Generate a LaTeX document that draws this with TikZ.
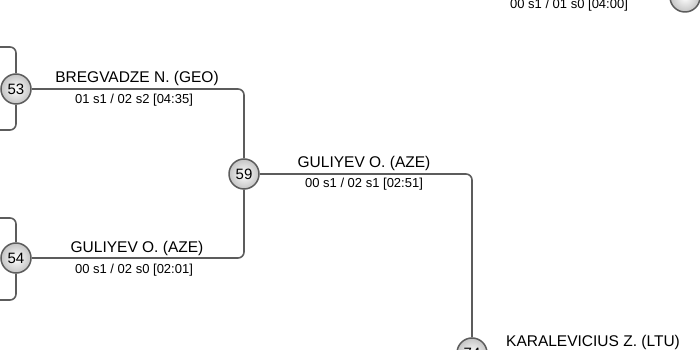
\documentclass[tikz,border=0pt]{standalone}
\usepackage{fontspec}
\setmainfont{Liberation Sans}
\usepackage{tikz}
\usetikzlibrary{positioning}
\definecolor{wireGray}{HTML}{5C5C5C}
\definecolor{ballGray}{HTML}{C4C4C4}

\begin{document}
\begin{tikzpicture}[x=1pt,y=1pt,
  bout/.style={circle,draw=wireGray,line width=1.5pt,shading=radial,inner color=white,outer color=ballGray,minimum size=30pt,inner sep=0pt,font=\fontsize{15}{15}\selectfont},
  wire/.style={draw=wireGray,line width=1.6pt,rounded corners=6pt},
  who/.style={font=\fontsize{15.5}{16}\selectfont},
  score/.style={font=\fontsize{13}{14}\selectfont}]
\useasboundingbox (0,0) rectangle (700,350);
\clip (0,0) rectangle (700,350);
% bouts
\node[bout] (m53) at (16,261) {53};
\node[bout] (m54) at (16,92) {54};
\node[bout] (m59) at (244,176) {59};
\node[bout] (m74) at (472,-3) {74};
\node[bout] (mtop) at (685,353) {};
% loose ends of the earlier rounds
\coordinate (u53) at (0,303);
\coordinate (d53) at (0,220);
\coordinate (u54) at (0,132);
\coordinate (d54) at (0,50);
\draw[wire] (u53) -| (m53);
\draw[wire] (d53) -| (m53);
\draw[wire] (u54) -| (m54);
\draw[wire] (d54) -| (m54);
% winners move on
\draw[wire] (m53) -| (m59);
\draw[wire] (m54) -| (m59);
\draw[wire] (m59) -| (m74);
% names and scores
\node[who] (n53) at (137,272) {BREGVADZE N. (GEO)};
\node[score] (s53) at (134,250) {01 s1 / 02 s2 [04:35]};
\node[who] (n54) at (137,102) {GULIYEV O. (AZE)};
\node[score] (s54) at (134,80) {00 s1 / 02 s0 [02:01]};
\node[who] (n59) at (364,187) {GULIYEV O. (AZE)};
\node[score] (s59) at (364,166) {00 s1 / 02 s1 [02:51]};
\node[who] (n74) at (593,8) {KARALEVICIUS Z. (LTU)};
\node[score] (stop) at (569,345) {00 s1 / 01 s0 [04:00]};
\end{tikzpicture}
\end{document}
